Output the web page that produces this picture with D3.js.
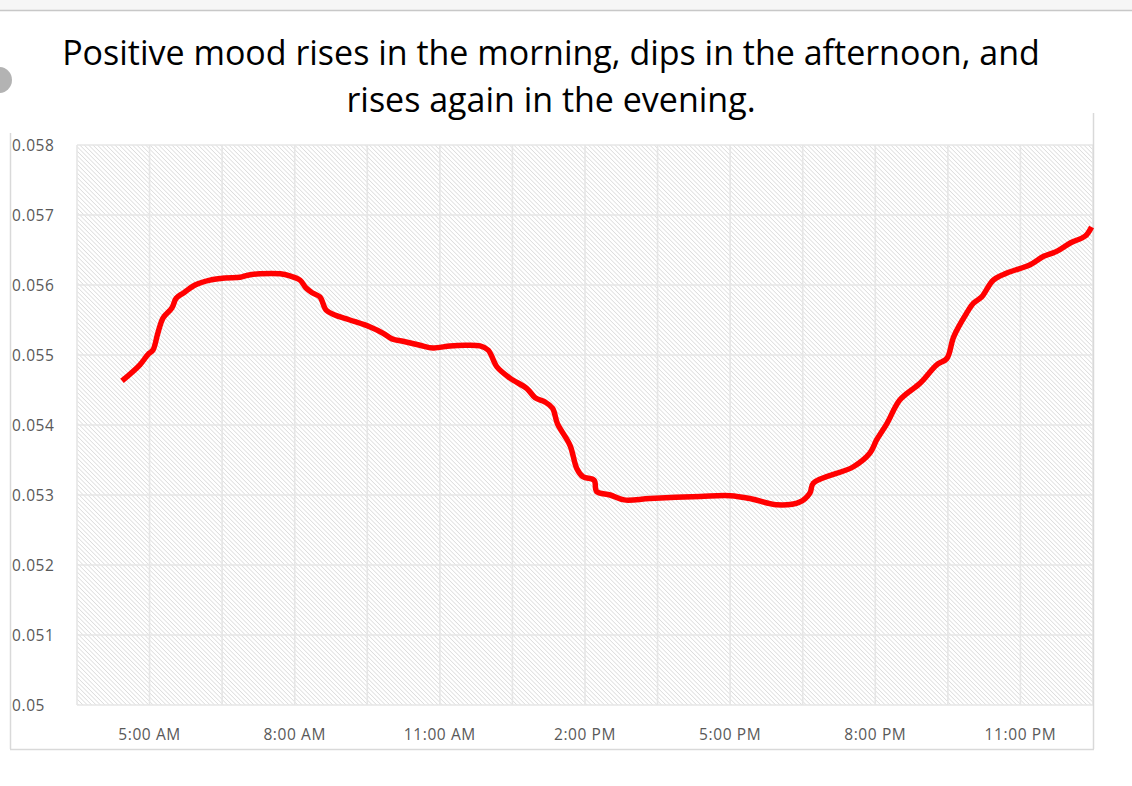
<!DOCTYPE html>
<html><head><meta charset="utf-8">
<script src="https://cdn.jsdelivr.net/npm/d3@7"></script>
<style>body{margin:0;background:#fff;}svg{display:block;}</style>
</head><body>
<script>
// Data: hour of day (decimal, 24+ = after midnight) and positive mood value
const hours = [4.43,4.80,4.97,5.07,5.17,5.28,5.46,5.55,5.71,5.94,6.25,6.56,6.87,7.03,7.28,7.70,7.90,8.11,8.23,8.36,8.52,8.65,8.83,9.14,9.56,9.83,10.01,10.28,10.59,10.86,11.21,11.52,11.83,12.00,12.18,12.45,12.80,12.97,13.17,13.33,13.43,13.69,13.83,13.96,14.19,14.24,14.52,14.81,15.34,16.38,17.00,17.41,17.96,18.44,18.65,18.72,19.54,19.89,20.03,20.24,20.51,20.93,21.27,21.48,21.62,21.89,22.03,22.20,22.44,22.72,23.20,23.48,23.75,24.03,24.34,24.47];
const mood  = [0.05463,0.05486,0.05501,0.05507,0.05531,0.05553,0.05567,0.05581,0.05589,0.05600,0.05607,0.05610,0.05611,0.05614,0.05616,0.05616,0.05613,0.05607,0.05596,0.05589,0.05583,0.05564,0.05557,0.05550,0.05540,0.05531,0.05523,0.05519,0.05514,0.05510,0.05513,0.05514,0.05513,0.05507,0.05483,0.05467,0.05452,0.05439,0.05433,0.05424,0.05402,0.05371,0.05338,0.05326,0.05321,0.05305,0.05300,0.05293,0.05295,0.05298,0.05299,0.05295,0.05286,0.05290,0.05303,0.05317,0.05340,0.05360,0.05379,0.05402,0.05436,0.05460,0.05486,0.05495,0.05526,0.05560,0.05574,0.05583,0.05607,0.05617,0.05629,0.05641,0.05648,0.05660,0.05670,0.05683];
const yTicks = [0.05,0.051,0.052,0.053,0.054,0.055,0.056,0.057,0.058];
const yTickLabels = ["0.05","0.051","0.052","0.053","0.054","0.055","0.056","0.057","0.058"];
const xTicks = [5,8,11,14,17,20,23];
const xTickLabels = ["5:00 AM","8:00 AM","11:00 AM","2:00 PM","5:00 PM","8:00 PM","11:00 PM"];
const xGrid = [3.5,5,6.5,8,9.5,11,12.5,14,15.5,17,18.5,20,21.5,23,24.5];
const titleLines = ["Positive mood rises in the morning, dips in the afternoon, and","rises again in the evening."];

const W = 1132, H = 786;
const svg = d3.select("body").append("svg").attr("width", W).attr("height", H);

// screenshot chrome
svg.append("rect").attr("x",0).attr("y",0).attr("width",W).attr("height",10).attr("fill","#f6f6f6");
svg.append("line").attr("x1",0).attr("x2",W).attr("y1",10.5).attr("y2",10.5).attr("stroke","#c8c8c8").attr("stroke-width",1.5);
svg.append("circle").attr("cx",-1).attr("cy",80).attr("r",13).attr("fill","#b3b3b3");

const L = 77, R = 1093, T = 145, B = 705;
const x = d3.scaleLinear().domain([3.5, 24.5]).range([L, R]);
const y = d3.scaleLinear().domain([0.05, 0.058]).range([B, T]);

// pattern
const defs = svg.append("defs");
const P = 3.1;
const pat = defs.append("pattern").attr("id","hatch").attr("patternUnits","userSpaceOnUse")
  .attr("width",P).attr("height",P).attr("patternTransform","rotate(-45)");
pat.append("rect").attr("width",P).attr("height",P).attr("fill","#ffffff");
pat.append("line").attr("x1",0).attr("x2",0).attr("y1",0).attr("y2",P).attr("stroke","#d9d9d9").attr("stroke-width",1.4);

svg.append("rect").attr("x",L).attr("y",T).attr("width",R-L).attr("height",B-T).attr("fill","url(#hatch)");

// grid
svg.append("g").selectAll("line").data(yTicks).join("line")
  .attr("x1",L).attr("x2",R).attr("y1",d=>y(d)).attr("y2",d=>y(d))
  .attr("stroke","#e6e6e6").attr("stroke-width",1.6);
svg.append("g").selectAll("line").data(xGrid).join("line")
  .attr("x1",d=>x(d)).attr("x2",d=>x(d)).attr("y1",T).attr("y2",B)
  .attr("stroke","#e6e6e6").attr("stroke-width",1.6);

// frame
svg.append("line").attr("x1",10.5).attr("x2",10.5).attr("y1",133).attr("y2",749).attr("stroke","#d9d9d9").attr("stroke-width",1.5);
svg.append("line").attr("x1",10).attr("x2",1094).attr("y1",749.5).attr("y2",749.5).attr("stroke","#d9d9d9").attr("stroke-width",1.5);
svg.append("line").attr("x1",1093.5).attr("x2",1093.5).attr("y1",113).attr("y2",749).attr("stroke","#d9d9d9").attr("stroke-width",1.5);

// y labels
svg.append("g").selectAll("text").data(yTicks).join("text")
  .attr("x",12).attr("y",d=>y(d)).attr("dy","0.36em")
  .attr("font-family","'Open Sans', sans-serif").attr("font-size",15.5).attr("letter-spacing",0.6).attr("fill","#595959")
  .text((d,i)=>yTickLabels[i]);

// x labels
svg.append("g").selectAll("text").data(xTicks).join("text")
  .attr("x",d=>x(d)).attr("y",740).attr("text-anchor","middle")
  .attr("font-family","'Open Sans', sans-serif").attr("font-size",15.5).attr("letter-spacing",0.6).attr("fill","#595959")
  .text((d,i)=>xTickLabels[i]);

// title
const tt = svg.append("g").selectAll("text").data(titleLines).join("text")
  .attr("x",551).attr("y",(d,i)=>65+i*47).attr("text-anchor","middle")
  .attr("font-family","'Open Sans', sans-serif").attr("font-size",30).attr("fill","#000")
  .text(d=>d);
const w0 = tt.nodes()[0].getComputedTextLength();
tt.attr("font-size",30*978/w0);

// line
const pts = hours.map((h,i)=>[h,mood[i]]);
svg.append("path").datum(pts)
  .attr("d", d3.line().x(d=>x(d[0])).y(d=>y(d[1])).curve(d3.curveCatmullRom))
  .attr("fill","none").attr("stroke","#ff0000").attr("stroke-width",5.5)
  .attr("stroke-linejoin","round").attr("stroke-linecap","butt");
</script>
</body></html>
